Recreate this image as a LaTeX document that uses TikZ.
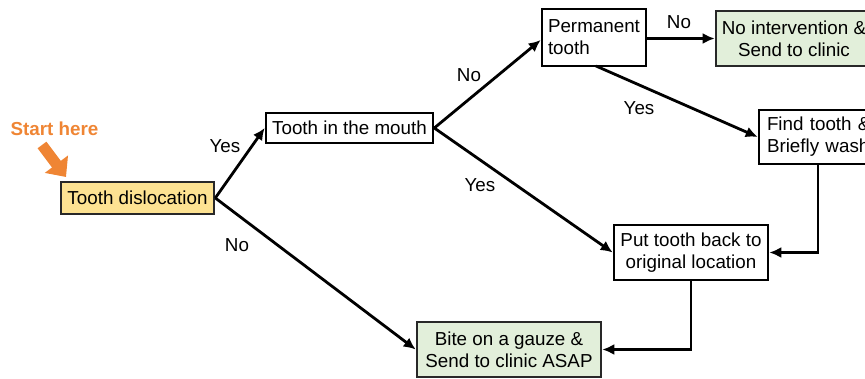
\documentclass[tikz,border=0pt]{standalone}
\usepackage{fontspec}
\setmainfont{Liberation Sans}
\usetikzlibrary{arrows.meta}
\definecolor{startorange}{RGB}{239,133,52}
\definecolor{boxyellow}{RGB}{253,226,146}
\definecolor{boxgreen}{RGB}{226,239,218}
\definecolor{edgegray}{RGB}{40,40,40}
\tikzset{
  box/.style={draw=black, line width=2.6pt, fill=white, inner sep=0pt, align=center,
    font=\fontsize{18.8}{22}\selectfont},
  lbl/.style={font=\fontsize{18.8}{22}\selectfont, inner sep=0pt},
  conn/.style={line width=2.8pt, -{Latex[length=12pt,width=11pt]}},
}
\begin{document}
\begin{tikzpicture}[x=1pt,y=-1pt]
\useasboundingbox (0,0) rectangle (865,379);
\clip (0,0) rectangle (865,379);
% boxes
\node[box, fill=boxyellow, draw=edgegray, minimum width=153pt, minimum height=32pt] (disl) at (137.5,198) {Tooth dislocation};
\node[box, minimum width=167pt, minimum height=30pt] (mouth) at (349.5,128) {Tooth in the mouth};
\node[box, minimum width=104pt, minimum height=57pt, align=left, text width=92pt] (perm) at (594,37.5) {Permanent\\tooth};
\node[box, fill=boxgreen, draw=edgegray, minimum width=156pt, minimum height=55pt] (noint) at (794,38.5) {No intervention \&\\Send to clinic};
\node[box, minimum width=150pt, minimum height=54pt, align=left, text width=134pt] (find) at (834,137) {Find tooth \&\\Briefly wash};
\node[box, minimum width=154pt, minimum height=55pt] (put) at (691,252.5) {Put tooth back to\\original location};
\node[box, fill=boxgreen, draw=edgegray, minimum width=184pt, minimum height=55pt] (bite) at (509,349.5) {Bite on a gauze \&\\Send to clinic ASAP};
% start here
\node[lbl, font=\fontsize{18.8}{22}\selectfont\bfseries, text=startorange] (start) at (54.5,129) {Start here};
\coordinate (sa) at (42,145);
\coordinate (sb) at (66,177);
\draw[startorange, line width=11pt, -{Triangle[length=16pt,width=28pt]}] (sa) -- (sb);
% connectors
\draw[conn] (disl.east) -- (mouth.west);
\draw[conn] (disl.east) -- (bite.west);
\draw[conn] (mouth.east) -- (perm.west |- 0,40);
\draw[conn] (mouth.east) -- (put.west);
\draw[conn] (perm.east |- noint.west) -- (noint.west);
\draw[conn] (596,66) -- (find.west);
\draw[conn] (818,164) |- (put.east);
\draw[conn] (put.south) |- (bite.east);
% labels
\node[lbl] (l1) at (225,146) {Yes};
\node[lbl] (l2) at (237,245) {No};
\node[lbl] (l3) at (469,75) {No};
\node[lbl] (l4) at (480,185) {Yes};
\node[lbl] (l5) at (679,22) {No};
\node[lbl] (l6) at (639,108) {Yes};
\end{tikzpicture}
\end{document}
